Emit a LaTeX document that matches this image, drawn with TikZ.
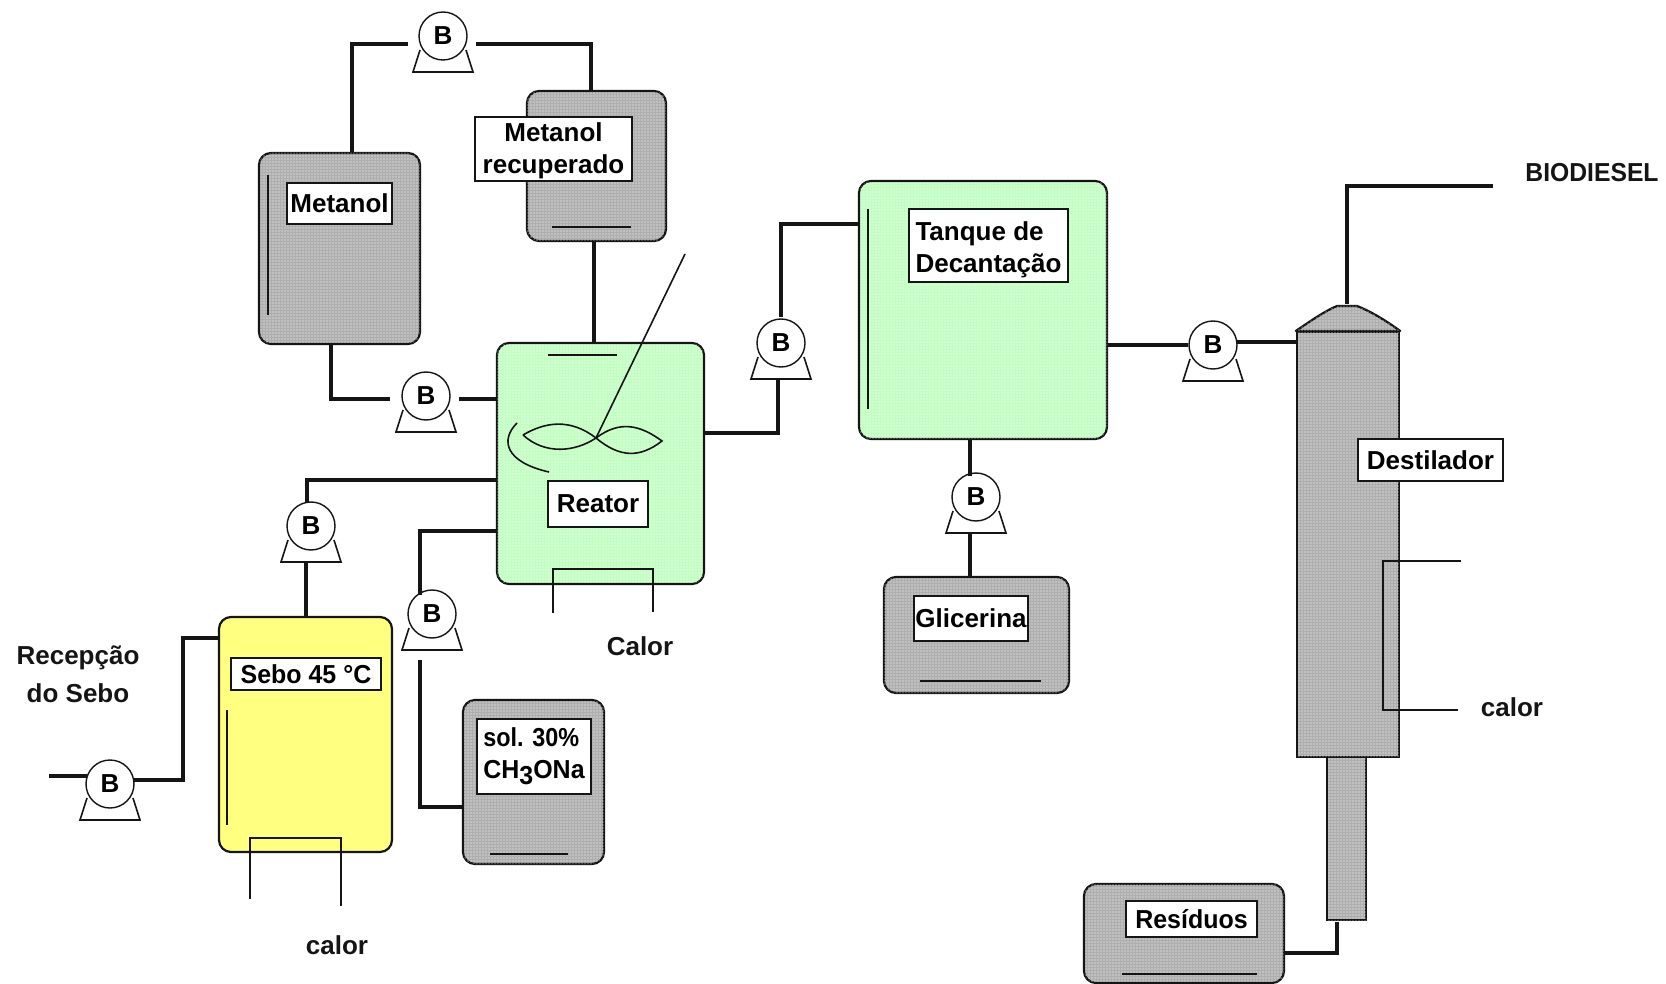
\documentclass[tikz,border=0pt]{standalone}
\usepackage{fontspec}
\usetikzlibrary{patterns.meta}
\setmainfont{Liberation Sans}
\definecolor{tgray}{HTML}{AEAEAE}
\definecolor{tgreen}{HTML}{C2FEC2}
\definecolor{tyellow}{HTML}{FFFF80}
\definecolor{ink}{HTML}{151515}
\tikzset{
  dotted fill/.style={postaction={pattern={Dots[distance=1.5pt,radius=0.28pt]},pattern color=white}},
  vessel/.style={draw=ink,line width=1.1pt,rounded corners=6pt},
  grayvessel/.style={vessel,fill=tgray,dotted fill},
  greenvessel/.style={vessel,fill=tgreen,dotted fill},
  yellowvessel/.style={vessel,fill=tyellow},
  column/.style={draw=ink,line width=1.1pt,fill=tgray,dotted fill},
  labelbox/.style={draw=ink,line width=1pt,fill=white,align=center,font=\fontsize{13}{16}\selectfont\bfseries},
  leftbox/.style={labelbox,align=left},
  freetext/.style={align=center,inner sep=0pt,font=\fontsize{13}{19}\selectfont\bfseries,text=ink},
  pipe/.style={draw=ink,line width=2.2pt,line join=miter},
  thinline/.style={draw=ink,line width=0.8pt},
  level/.style={draw=ink,line width=1pt},
  pumphead/.style={circle,draw=ink,line width=0.7pt,fill=white,minimum size=24pt,inner sep=0pt,font=\fontsize{13}{13}\selectfont\bfseries},
}
\newcommand\bx[7][]{%
  \pgfmathsetmacro\cxv{(#3+#5)/2}\pgfmathsetmacro\cyv{(#4+#6)/2}%
  \pgfmathsetmacro\wv{(#5-#3)*0.5}\pgfmathsetmacro\hv{(#6-#4)*0.5}%
  \node[#1,inner sep=0pt,minimum width=\wv pt,minimum height=\hv pt] (#2) at (\cxv,\cyv) {#7};}
\newcommand\pump[3]{%
  \draw[thinline,fill=white] (#2-23,#3+14) -- (#2-30,#3+36) -- (#2+30,#3+36) -- (#2+23,#3+14);
  \node[pumphead] (#1) at (#2,#3) {B};}
\begin{document}
\begin{tikzpicture}[x=0.5pt,y=-0.5pt]
\useasboundingbox (0,0) rectangle (1666,984);
\fill[white] (0,0) rectangle (1666,984);

% vessels
\bx[grayvessel]{metanol}{259}{153}{420}{344}{}
\bx[grayvessel]{recup}{527}{91}{666}{241}{}
\bx[greenvessel]{reactor}{497}{343}{704}{584}{}
\bx[greenvessel]{decant}{859}{181}{1107}{439}{}
\bx[grayvessel]{glic}{884}{577}{1069}{693}{}
\bx[yellowvessel]{sebo}{219}{617}{392}{852}{}
\bx[grayvessel]{sol}{463}{700}{604}{864}{}
\bx[grayvessel]{resid}{1084}{884}{1284}{983}{}
\bx[column]{lower}{1327}{757}{1366}{920}{}
\bx[column]{dest}{1297}{332}{1399}{757}{}
\draw[column,line join=round] (dest.north west) .. controls (1312,320) and (1325,311) .. (1337,306) -- (1357,306) .. controls (1370,311) and (1385,320) .. (dest.north east) -- cycle;

% pumps
\pump{pa}{443}{36}
\pump{pb}{426}{396}
\pump{pc}{781}{343}
\pump{pd}{1213}{345}
\pump{pe}{976}{497}
\pump{pf}{311}{526}
\pump{pg}{432}{614}
\pump{ph}{110}{784}

% pipe way-points
\coordinate (a1) at (352,44); \coordinate (a2) at (408,44);
\coordinate (a3) at (476,44); \coordinate (a4) at (591,44);
\coordinate (b1) at (331,399); \coordinate (b2) at (390,399);
\coordinate (b3) at (459,399);
\coordinate (c1) at (594,300);
\coordinate (d1) at (778,433); \coordinate (d2) at (778,380);
\coordinate (d3) at (781,317); \coordinate (d4) at (781,224);
\coordinate (e2) at (1237,342);
\coordinate (f0) at (1347,304); \coordinate (f1) at (1347,186);
\coordinate (f2) at (1493,186);
\coordinate (g1) at (970,476); \coordinate (g2) at (970,534);
\coordinate (h1) at (1337,922); \coordinate (h2) at (1337,953);
\coordinate (i1) at (307,480); \coordinate (i2) at (307,503);
\coordinate (i3) at (306,563);
\coordinate (j1) at (420,531); \coordinate (j2) at (420,595);
\coordinate (j3) at (420,660); \coordinate (j4) at (420,807);
\coordinate (k0) at (49,776); \coordinate (k1) at (87,776);
\coordinate (k2) at (134,780); \coordinate (k3) at (183,780);
\coordinate (k4) at (183,638);

% pipes
\draw[pipe] (metanol.north -| a1) -- (a1) -- (a2);
\draw[pipe] (a3) -- (a4) -- (recup.north -| a4);
\draw[pipe] (metanol.south -| b1) -- (b1) -- (b2);
\draw[pipe] (b3) -- (reactor.west |- b3);
\draw[pipe] (recup.south -| c1) -- (reactor.north -| c1);
\draw[pipe] (reactor.east |- d1) -- (d1) -- (d2);
\draw[pipe] (d3) -- (d4) -- (decant.west |- d4);
\draw[pipe] (decant.east |- pd.west) -- (pd.west);
\draw[pipe] (e2) -- (dest.west |- e2);
\draw[pipe] (f0) -- (f1) -- (f2);
\draw[pipe] (decant.south -| g1) -- (g1);
\draw[pipe] (g2) -- (glic.north -| g2);
\draw[pipe] (h1) -- (h2) -- (resid.east |- h2);
\draw[pipe] (reactor.west |- i1) -- (i1) -- (i2);
\draw[pipe] (i3) -- (sebo.north -| i3);
\draw[pipe] (reactor.west |- j1) -- (j1) -- (j2);
\draw[pipe] (j3) -- (j4) -- (sol.west |- j4);
\draw[pipe] (k0) -- (k1);
\draw[pipe] (k2) -- (k3) -- (k4) -- (sebo.west |- k4);

% level marks
\draw[level] (268,175) -- (268,315);
\draw[level] (552,227) -- (631,227);
\draw[level] (548,355) -- (617,355);
\draw[level] (868,209) -- (868,409);
\draw[level] (920,681) -- (1041,681);
\draw[level] (227,710) -- (227,825);
\draw[level] (490,854) -- (568,854);
\draw[level] (1122,974) -- (1257,974);

% stirrer
\draw[thinline] (685,254) -- (596,438);
\draw[thinline] (523,435) .. controls (545,422) and (570,418) .. (596,438)
  .. controls (620,420) and (640,425) .. (662,441)
  .. controls (640,458) and (620,458) .. (596,438)
  .. controls (575,452) and (545,455) .. (523,435);
\draw[thinline] (517,423) .. controls (500,440) and (505,462) .. (549,472);

% heating coils
\draw[thinline] (553,613) -- (553,569) -- (653,569) -- (653,612);
\draw[thinline] (250,899) -- (250,838) -- (341,838) -- (341,906);
\draw[thinline] (1461,561) -- (1383,561) -- (1383,710) -- (1458,710);

% labels
\bx[labelbox]{lbmetanol}{287}{183}{392}{224}{Metanol}
\bx[labelbox]{lbrecup}{475}{117}{632}{181}{\rule{0pt}{11.5pt}Metanol\\recuperado}
\bx[labelbox]{lbreator}{548}{481}{648}{527}{Reator}
\bx[leftbox]{lbtanque}{909}{209}{1068}{282}{\rule{0pt}{13.5pt}Tanque de\\Decantação}
\bx[labelbox]{lbglic}{914}{596}{1028}{641}{Glicerina}
\bx[labelbox]{lbsebo}{231}{658}{381}{690}{\scalebox{0.96}[1]{Sebo 45 °C}}
\bx[leftbox]{lbsol}{477}{719}{591}{794}{\scalebox{0.9}[1]{sol. 30\%}\\\scalebox{0.96}[1]{CH\raisebox{-3pt}{3}ONa}}
\bx[labelbox]{lbdest}{1358}{439}{1503}{481}{Destilador}
\bx[labelbox]{lbres}{1126}{901}{1257}{937}{\scalebox{0.96}[1]{Resíduos}}

\node[freetext] (tbio) at (1592,173) {\scalebox{0.95}[1]{BIODIESEL}};
\node[freetext] (tcalora) at (640,646) {Calor};
\node[freetext] (tcalorb) at (337,945) {calor};
\node[freetext] (tcalorc) at (1512,707) {calor};
\node[freetext] (trec) at (78,674) {Recepção\\do Sebo};
\end{tikzpicture}
\end{document}
